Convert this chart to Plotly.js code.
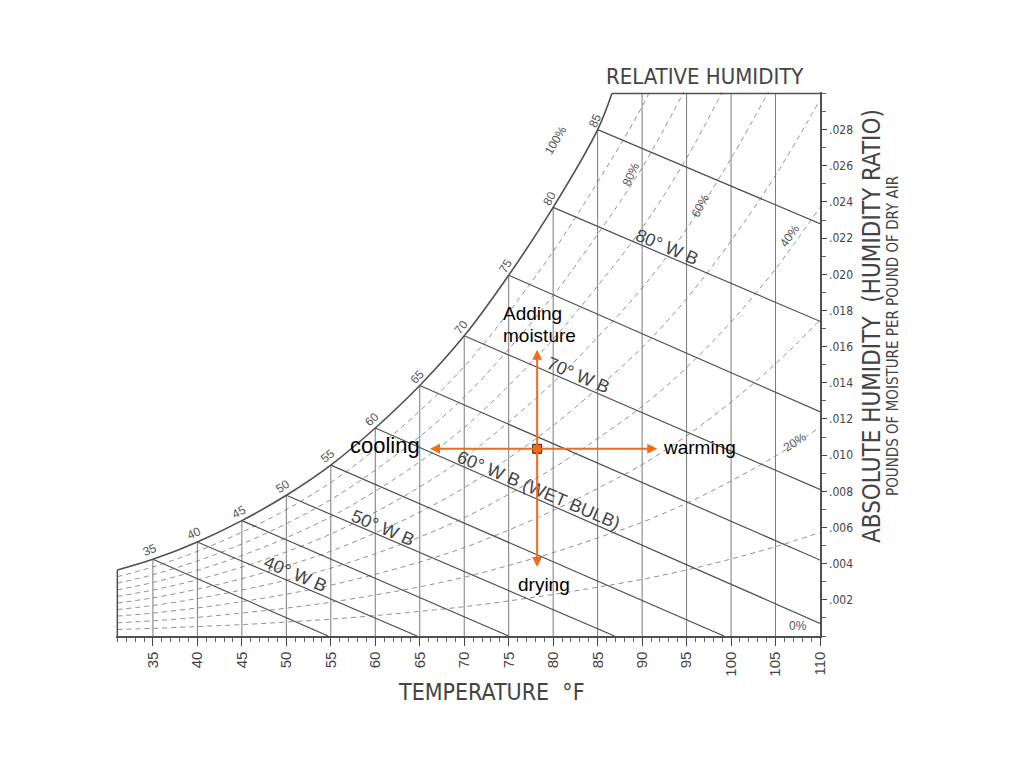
<!DOCTYPE html>
<html>
<head>
<meta charset="utf-8">
<script src="https://cdn.plot.ly/plotly-3.0.1.min.js"></script>
<style>
html,body{margin:0;padding:0;background:#fff;}
#chart{width:1024px;height:768px;}
</style>
</head>
<body>
<div id="chart"></div>
<script>
// ---------------- DATA ----------------
// Saturation curve (100% RH): dry-bulb temperature (°F) and humidity ratio (lb/lb)
const satTemp  = [31, 35, 40, 45, 50, 55, 60, 65, 70, 75, 80, 85, 86.6];
const satRatio = [0.00365, 0.00424, 0.00520, 0.00638, 0.00778, 0.00945, 0.01150, 0.01385, 0.01660, 0.01995, 0.02370, 0.02800, 0.03000];

// Chart boundary: top humidity ratio and right/left temperature
const chartTopRatio = 0.030;
const chartLeftTemp = 31;
const chartRightTemp = 110;

// Dry-bulb (vertical) lines
const dryBulbTemps = [35, 40, 45, 50, 55, 60, 65, 70, 75, 80, 85, 90, 95, 100, 105];

// Relative humidity curves (dashed), sampled at these dry-bulb temperatures
const rhTemps = [31, 35, 40, 45, 50, 55, 60, 65, 70, 75, 80, 85, 90, 95, 100, 105, 110];
const rh90 = [0.00328,0.00382,0.00468,0.00574,0.00699,0.00849,0.01033,0.01244,0.01490,0.01790,0.02126,0.02510,0.02928,0.03436];
const rh80 = [0.00292,0.00339,0.00415,0.00509,0.00621,0.00754,0.00917,0.01103,0.01321,0.01586,0.01883,0.02221,0.02590,0.03037];
const rh70 = [0.00255,0.00296,0.00363,0.00445,0.00543,0.00659,0.00801,0.00963,0.01153,0.01384,0.01641,0.01936,0.02256,0.02642,0.03102];
const rh60 = [0.00219,0.00254,0.00311,0.00381,0.00465,0.00564,0.00685,0.00824,0.00986,0.01183,0.01402,0.01652,0.01924,0.02251,0.02640,0.03081];
const rh50 = [0.00182,0.00211,0.00259,0.00317,0.00387,0.00469,0.00570,0.00685,0.00820,0.00983,0.01164,0.01371,0.01595,0.01865,0.02185,0.02547,0.02964];
const rh40 = [0.00146,0.00169,0.00207,0.00254,0.00309,0.00375,0.00455,0.00547,0.00654,0.00784,0.00928,0.01092,0.01270,0.01484,0.01737,0.02030,0.02370];
const rh30 = [0.00110,0.00127,0.00155,0.00190,0.00231,0.00281,0.00341,0.00409,0.00489,0.00586,0.00694,0.00816,0.00948,0.01107,0.01294,0.01505,0.01747];
const rh20 = [0.00073,0.00084,0.00103,0.00127,0.00154,0.00187,0.00227,0.00272,0.00325,0.00390,0.00461,0.00542,0.00629,0.00734,0.00857,0.00995,0.01154];
const rh10 = [0.00036,0.00042,0.00052,0.00063,0.00077,0.00093,0.00113,0.00136,0.00162,0.00194,0.00230,0.00270,0.00313,0.00365,0.00426,0.00494,0.00572];
const rhCurves = [rh90, rh80, rh70, rh60, rh50, rh40, rh30, rh20, rh10];

// Wet-bulb lines: start on saturation curve, end on bottom or right edge
const wetBulbTemps    = [35, 40, 45, 50, 55, 60, 65, 70, 75, 80, 85];
const wetBulbEndTemp  = [54.7, 64.7, 75.0, 86.9, 99.2, 110, 110, 110, 110, 110, 110];
const wetBulbEndRatio = [0, 0, 0, 0, 0, 0.0007, 0.0042, 0.0081, 0.0124, 0.0174, 0.0228];

// Axis ticks
const tempTicks = [35, 40, 45, 50, 55, 60, 65, 70, 75, 80, 85, 90, 95, 100, 105, 110];
const ratioTicks = [0.002, 0.004, 0.006, 0.008, 0.010, 0.012, 0.014, 0.016, 0.018, 0.020, 0.022, 0.024, 0.026, 0.028];
const ratioTickText = ['.002', '.004', '.006', '.008', '.010', '.012', '.014', '.016', '.018', '.020', '.022', '.024', '.026', '.028'];

// Process example (orange overlay)
const stateTemp = 78.2;
const stateRatio = 0.01035;
const coolingToTemp = 66.15;
const warmingToTemp = 91.7;
const moistureToRatio = 0.01583;
const dryingToRatio = 0.00382;

// ---------------- STYLE ----------------
const SANS = 'Liberation Sans, Arial, Helvetica, sans-serif';
const NARROW = "'Liberation Sans Narrow', 'Arial Narrow', 'DejaVu Sans Condensed', sans-serif";
const INK = '#444';
const ORANGE = '#F26A1B';

function satAt(t) {
  const i = satTemp.indexOf(t);
  return i >= 0 ? satRatio[i] : chartTopRatio;
}

const traces = [];

// RH dashed curves
rhCurves.forEach(arr => {
  traces.push({
    x: rhTemps.slice(0, arr.length), y: arr, type: 'scatter', mode: 'lines',
    line: {color: '#858585', width: 0.9, dash: '5px,4px', shape: 'spline', smoothing: 1},
    hoverinfo: 'skip'
  });
});

// Dry-bulb vertical lines
const dbx = [], dby = [];
dryBulbTemps.forEach(t => { dbx.push(t, t, null); dby.push(0, satAt(t), null); });
traces.push({x: dbx, y: dby, type: 'scatter', mode: 'lines',
  line: {color: '#7a7a7a', width: 1}, hoverinfo: 'skip'});

// Wet-bulb lines
const wbx = [], wby = [];
wetBulbTemps.forEach((t, i) => {
  wbx.push(t, wetBulbEndTemp[i], null);
  wby.push(satAt(t), wetBulbEndRatio[i], null);
});
traces.push({x: wbx, y: wby, type: 'scatter', mode: 'lines',
  line: {color: '#505050', width: 1.2}, hoverinfo: 'skip'});

// Saturation curve
traces.push({x: satTemp, y: satRatio, type: 'scatter', mode: 'lines',
  line: {color: '#505050', width: 1.6, shape: 'spline', smoothing: 1}, hoverinfo: 'skip'});

// Frame: left edge and top edge
traces.push({x: [chartLeftTemp, chartLeftTemp], y: [0, satRatio[0]], type: 'scatter', mode: 'lines',
  line: {color: '#505050', width: 1.5}, hoverinfo: 'skip'});
traces.push({x: [satTemp[satTemp.length - 1], chartRightTemp], y: [chartTopRatio, chartTopRatio], type: 'scatter', mode: 'lines',
  line: {color: '#505050', width: 1.5}, hoverinfo: 'skip'});

// State point
traces.push({x: [stateTemp], y: [stateRatio], type: 'scatter', mode: 'markers',
  marker: {symbol: 'square', size: 9, color: ORANGE, line: {color: '#2a2a2a', width: 1}},
  hoverinfo: 'skip'});

// ---------------- ANNOTATIONS ----------------
const ann = [];

// Small wet-bulb numbers along the saturation curve
const wbNumAngles = [-22, -25, -28, -33, -38, -42, -47, -52, -57, -61, -64];
wetBulbTemps.forEach((t, i) => {
  ann.push({x: t, y: satAt(t), xref: 'x', yref: 'y', text: String(t), showarrow: false,
    xshift: -3, yshift: 9, textangle: wbNumAngles[i],
    font: {family: SANS, size: 12, color: '#555'}});
});

// Large wet-bulb labels placed along their lines
const bigWB = [
  {wb: 40, f: 0.431, text: '40° W B'},
  {wb: 50, f: 0.286, text: '50° W B'},
  {wb: 60, f: 0.36,  text: '60° W B (WET BULB)'},
  {wb: 70, f: 0.31,  text: '70° W B'},
  {wb: 80, f: 0.415, text: '80° W B'}
];
bigWB.forEach(o => {
  const i = wetBulbTemps.indexOf(o.wb);
  const x0 = o.wb, y0 = satAt(o.wb);
  const x1 = wetBulbEndTemp[i], y1 = wetBulbEndRatio[i];
  ann.push({x: x0 + o.f * (x1 - x0), y: y0 + o.f * (y1 - y0), xref: 'x', yref: 'y',
    text: o.text, showarrow: false, textangle: 23, xshift: 3, yshift: 8,
    font: {family: SANS, size: 18, color: INK}});
});

// RH labels
const rhLabels = [
  {t: 80.3, w: 0.02743, text: '100%', a: -59},
  {t: 88.7, w: 0.02550, text: '80%', a: -65},
  {t: 96.5, w: 0.02380, text: '60%', a: -62},
  {t: 106.6, w: 0.02210, text: '40%', a: -55},
  {t: 107.2, w: 0.01070, text: '20%', a: -33},
  {t: 107.5, w: 0.00055, text: '0%', a: 0}
];
rhLabels.forEach(o => {
  ann.push({x: o.t, y: o.w, xref: 'x', yref: 'y', text: o.text, showarrow: false,
    textangle: o.a, font: {family: SANS, size: 12, color: '#555'}});
});

// Titles
const titleBase = {xref: 'paper', yref: 'paper', showarrow: false, xanchor: 'center', yanchor: 'middle'};
ann.push(Object.assign({}, titleBase, {x: 0.8366, y: 1.0276, text: 'RELATIVE HUMIDITY',
  font: {family: NARROW, size: 22, color: INK}}));
ann.push(Object.assign({}, titleBase, {x: 0.5327, y: -0.1029, text: 'TEMPERATURE  °F',
  font: {family: NARROW, size: 23, color: INK}}));
ann.push(Object.assign({}, titleBase, {x: 1.0739, y: 0.5699, text: 'ABSOLUTE HUMIDITY  (HUMIDITY RATIO)',
  textangle: -90, font: {family: NARROW, size: 24, color: INK}}));
ann.push(Object.assign({}, titleBase, {x: 1.1037, y: 0.5515, text: 'POUNDS OF MOISTURE PER POUND OF DRY AIR',
  textangle: -90, font: {family: NARROW, size: 15, color: INK}}));

// Orange arrows
const arrowBase = {xref: 'x', yref: 'y', axref: 'x', ayref: 'y', text: '', showarrow: true,
  arrowhead: 2, arrowsize: 1, arrowwidth: 2, arrowcolor: ORANGE, standoff: 0, startstandoff: 0};
ann.push(Object.assign({}, arrowBase, {x: coolingToTemp, y: stateRatio, ax: stateTemp, ay: stateRatio}));
ann.push(Object.assign({}, arrowBase, {x: warmingToTemp, y: stateRatio, ax: stateTemp, ay: stateRatio}));
ann.push(Object.assign({}, arrowBase, {x: stateTemp, y: moistureToRatio, ax: stateTemp, ay: stateRatio}));
ann.push(Object.assign({}, arrowBase, {x: stateTemp, y: dryingToRatio, ax: stateTemp, ay: stateRatio}));

// Process labels
const labFont = {family: SANS, size: 19, color: '#000'};
ann.push({x: coolingToTemp, y: stateRatio, xref: 'x', yref: 'y', text: 'cooling', showarrow: false,
  xanchor: 'right', xshift: -8, yshift: 3, font: {family: SANS, size: 22, color: '#000'}});
ann.push({x: warmingToTemp, y: stateRatio, xref: 'x', yref: 'y', text: 'warming', showarrow: false,
  xanchor: 'left', xshift: 4, yshift: 1, font: labFont});
ann.push({x: stateTemp, y: dryingToRatio, xref: 'x', yref: 'y', text: 'drying', showarrow: false,
  yanchor: 'top', xshift: 7, yshift: -5, font: labFont});
ann.push({x: stateTemp, y: moistureToRatio, xref: 'x', yref: 'y', text: 'moisture', showarrow: false,
  xanchor: 'left', yanchor: 'bottom', xshift: -36, yshift: 2, font: labFont});
ann.push({x: stateTemp, y: moistureToRatio, xref: 'x', yref: 'y', text: 'Adding', showarrow: false,
  xanchor: 'left', yanchor: 'bottom', xshift: -36, yshift: 24, font: labFont});

// ---------------- LAYOUT ----------------
const layout = {
  width: 1024, height: 768,
  margin: {l: 116, r: 204, t: 92, b: 132},
  paper_bgcolor: '#fff', plot_bgcolor: '#fff',
  showlegend: false,
  hovermode: false,
  xaxis: {
    range: [30.85, 110],
    tickmode: 'array', tickvals: tempTicks, ticktext: tempTicks.map(String),
    ticks: 'outside', ticklen: 8, tickwidth: 1, tickcolor: INK,
    tickangle: -90,
    tickfont: {family: SANS, size: 15, color: INK},
    minor: {tickmode: 'linear', tick0: 0, dtick: 1, ticks: 'outside', ticklen: 4, tickcolor: '#666', showgrid: false},
    showline: true, linecolor: '#505050', linewidth: 1.6,
    showgrid: false, zeroline: false, fixedrange: true
  },
  yaxis: {
    range: [0, 0.03008],
    side: 'right',
    tickmode: 'array', tickvals: ratioTicks, ticktext: ratioTickText,
    ticks: 'outside', ticklen: 5, tickwidth: 1, tickcolor: INK,
    tickfont: {family: NARROW, size: 12, color: INK},
    minor: {tickmode: 'linear', tick0: 0, dtick: 0.001, ticks: 'outside', ticklen: 4, tickcolor: '#666', showgrid: false},
    showline: true, linecolor: '#505050', linewidth: 1.6,
    showgrid: false, zeroline: false, fixedrange: true
  },
  annotations: ann
};

Plotly.newPlot('chart', traces, layout, {staticPlot: true, displayModeBar: false});
</script>
</body>
</html>
